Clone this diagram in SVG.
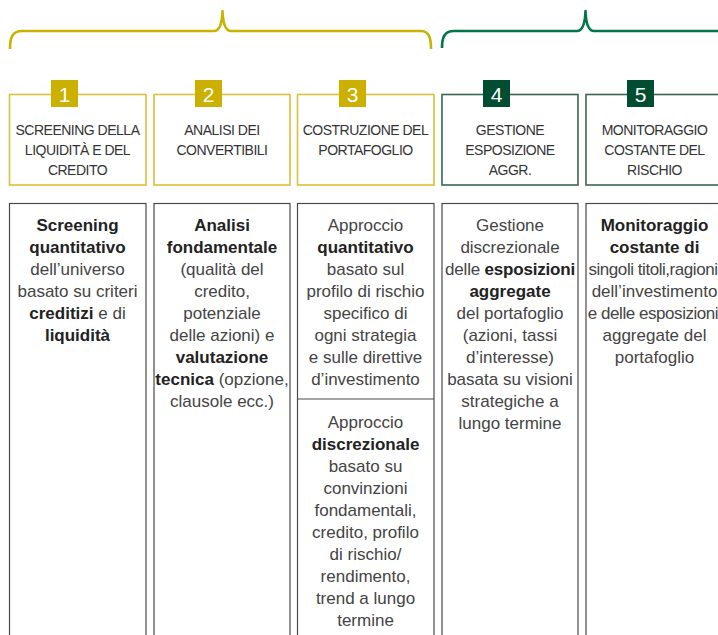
<svg xmlns="http://www.w3.org/2000/svg" width="718" height="635" viewBox="0 0 718 635">
<style>
.brace{fill:none;stroke-width:2.6;stroke-linejoin:round}
.hy{fill:#fff;stroke:#D8C13E;stroke-width:1.6}
.hg{fill:#fff;stroke:#3A6650;stroke-width:1.6}
.by{fill:#CCB000}
.bg{fill:#004D32}
.num{font-family:"Liberation Sans",Arial,sans-serif;font-size:21px;fill:#fff;text-anchor:middle}
.ht{font-family:"Liberation Sans",Arial,sans-serif;font-size:14px;letter-spacing:-0.5px;fill:#333;text-anchor:middle}
.body{fill:#fff;stroke:#4a4a4a;stroke-width:1.2}
.t{font-family:"Liberation Sans",Arial,sans-serif;font-size:17px;fill:#444;text-anchor:middle}
.b{font-weight:bold;fill:#222}
.tight{letter-spacing:-0.45px}
</style>
<g id="connectors">
<path class="brace" stroke="#C9B200" d="M10,49 C10,38 12,31 22,31 L214,31 C219,31 222,25 222.5,11 C223,25 226,31 231,31 L421,31 C429,31 431,38 431,49"/>
<path class="brace" stroke="#00764A" d="M442,48 C442,38 444,31 454,31 L577,31 C582,31 585,25 585.5,11 C586,25 589,31 594,31 L730,31"/>
</g>
<g id="step1">
<rect class="hy" x="9.5" y="94.5" width="136.5" height="90.5"/>
<rect class="by" x="51" y="80" width="27" height="27"/>
<text class="num" x="64.5" y="102">1</text>
<text class="ht" x="77.5" y="135">SCREENING DELLA</text>
<text class="ht" x="77.5" y="155">LIQUIDITÀ E DEL</text>
<text class="ht" x="77.5" y="175">CREDITO</text>
</g>
<g id="step2">
<rect class="hy" x="154" y="94.5" width="136" height="90.5"/>
<rect class="by" x="195" y="80" width="27" height="27"/>
<text class="num" x="208.5" y="102">2</text>
<text class="ht" x="222" y="135">ANALISI DEI</text>
<text class="ht" x="222" y="155">CONVERTIBILI</text>
</g>
<g id="step3">
<rect class="hy" x="297.5" y="94.5" width="136.5" height="90.5"/>
<rect class="by" x="339" y="80" width="27" height="27"/>
<text class="num" x="352.5" y="102">3</text>
<text class="ht" x="365.5" y="135">COSTRUZIONE DEL</text>
<text class="ht" x="365.5" y="155">PORTAFOGLIO</text>
</g>
<g id="step4">
<rect class="hg" x="442" y="94.5" width="136" height="90.5"/>
<rect class="bg" x="483" y="80" width="27" height="27"/>
<text class="num" x="496.5" y="102">4</text>
<text class="ht" x="510" y="135">GESTIONE</text>
<text class="ht" x="510" y="155">ESPOSIZIONE</text>
<text class="ht" x="510" y="175">AGGR.</text>
</g>
<g id="step5">
<rect class="hg" x="586" y="94.5" width="140" height="90.5"/>
<rect class="bg" x="627" y="80" width="27" height="27"/>
<text class="num" x="640.5" y="102">5</text>
<text class="ht" x="654.5" y="135">MONITORAGGIO</text>
<text class="ht" x="654.5" y="155">COSTANTE DEL</text>
<text class="ht" x="654.5" y="175">RISCHIO</text>
</g>
<g id="detail1">
<rect class="body" x="9.5" y="203.5" width="136.5" height="440"/>
<text class="t" x="77.5" y="231"><tspan class="b">Screening</tspan></text>
<text class="t" x="77.5" y="253"><tspan class="b">quantitativo</tspan></text>
<text class="t" x="77.5" y="275">dell’universo</text>
<text class="t" x="77.5" y="297">basato su criteri</text>
<text class="t" x="77.5" y="319"><tspan class="b">creditizi</tspan> e di</text>
<text class="t" x="77.5" y="341"><tspan class="b">liquidità</tspan></text>
</g>
<g id="detail2">
<rect class="body" x="154" y="203.5" width="136" height="440"/>
<text class="t" x="222" y="231"><tspan class="b">Analisi</tspan></text>
<text class="t" x="222" y="253"><tspan class="b">fondamentale</tspan></text>
<text class="t" x="222" y="275">(qualità del</text>
<text class="t" x="222" y="297">credito,</text>
<text class="t" x="222" y="319">potenziale</text>
<text class="t" x="222" y="341">delle azioni) e</text>
<text class="t" x="222" y="363"><tspan class="b">valutazione</tspan></text>
<text class="t" x="222" y="385"><tspan class="b">tecnica</tspan> (opzione,</text>
<text class="t" x="222" y="407">clausole ecc.)</text>
</g>
<g id="detail3">
<rect class="body" x="297.5" y="203.5" width="136.5" height="440"/>
<line x1="297.5" y1="399" x2="434" y2="399" stroke="#4a4a4a" stroke-width="1.2"/>
<text class="t" x="365.5" y="231">Approccio</text>
<text class="t" x="365.5" y="253"><tspan class="b">quantitativo</tspan></text>
<text class="t" x="365.5" y="275">basato sul</text>
<text class="t" x="365.5" y="297">profilo di rischio</text>
<text class="t" x="365.5" y="319">specifico di</text>
<text class="t" x="365.5" y="341">ogni strategia</text>
<text class="t" x="365.5" y="363">e sulle direttive</text>
<text class="t" x="365.5" y="385">d’investimento</text>
<text class="t" x="365.5" y="428">Approccio</text>
<text class="t" x="365.5" y="450"><tspan class="b">discrezionale</tspan></text>
<text class="t" x="365.5" y="472">basato su</text>
<text class="t" x="365.5" y="494">convinzioni</text>
<text class="t" x="365.5" y="516">fondamentali,</text>
<text class="t" x="365.5" y="538">credito, profilo</text>
<text class="t" x="365.5" y="560">di rischio/</text>
<text class="t" x="365.5" y="582">rendimento,</text>
<text class="t" x="365.5" y="604">trend a lungo</text>
<text class="t" x="365.5" y="626">termine</text>
</g>
<g id="detail4">
<rect class="body" x="442" y="203.5" width="136" height="440"/>
<text class="t" x="510" y="231">Gestione</text>
<text class="t" x="510" y="253">discrezionale</text>
<text class="t" x="510" y="275" style="letter-spacing:-0.2px">delle <tspan class="b">esposizioni</tspan></text>
<text class="t" x="510" y="297"><tspan class="b">aggregate</tspan></text>
<text class="t" x="510" y="319">del portafoglio</text>
<text class="t" x="510" y="341">(azioni, tassi</text>
<text class="t" x="510" y="363">d’interesse)</text>
<text class="t" x="510" y="385">basata su visioni</text>
<text class="t" x="510" y="407">strategiche a</text>
<text class="t" x="510" y="429">lungo termine</text>
</g>
<g id="detail5">
<rect class="body" x="586" y="203.5" width="140" height="440"/>
<text class="t" x="654.5" y="231"><tspan class="b">Monitoraggio</tspan></text>
<text class="t" x="654.5" y="253"><tspan class="b">costante di</tspan></text>
<text class="t tight" x="653" y="275">singoli titoli,ragioni</text>
<text class="t" x="654.5" y="297">dell’investimento</text>
<text class="t tight" x="653" y="319">e delle esposizioni</text>
<text class="t" x="654.5" y="341">aggregate del</text>
<text class="t" x="654.5" y="363">portafoglio</text>
</g>
</svg>
